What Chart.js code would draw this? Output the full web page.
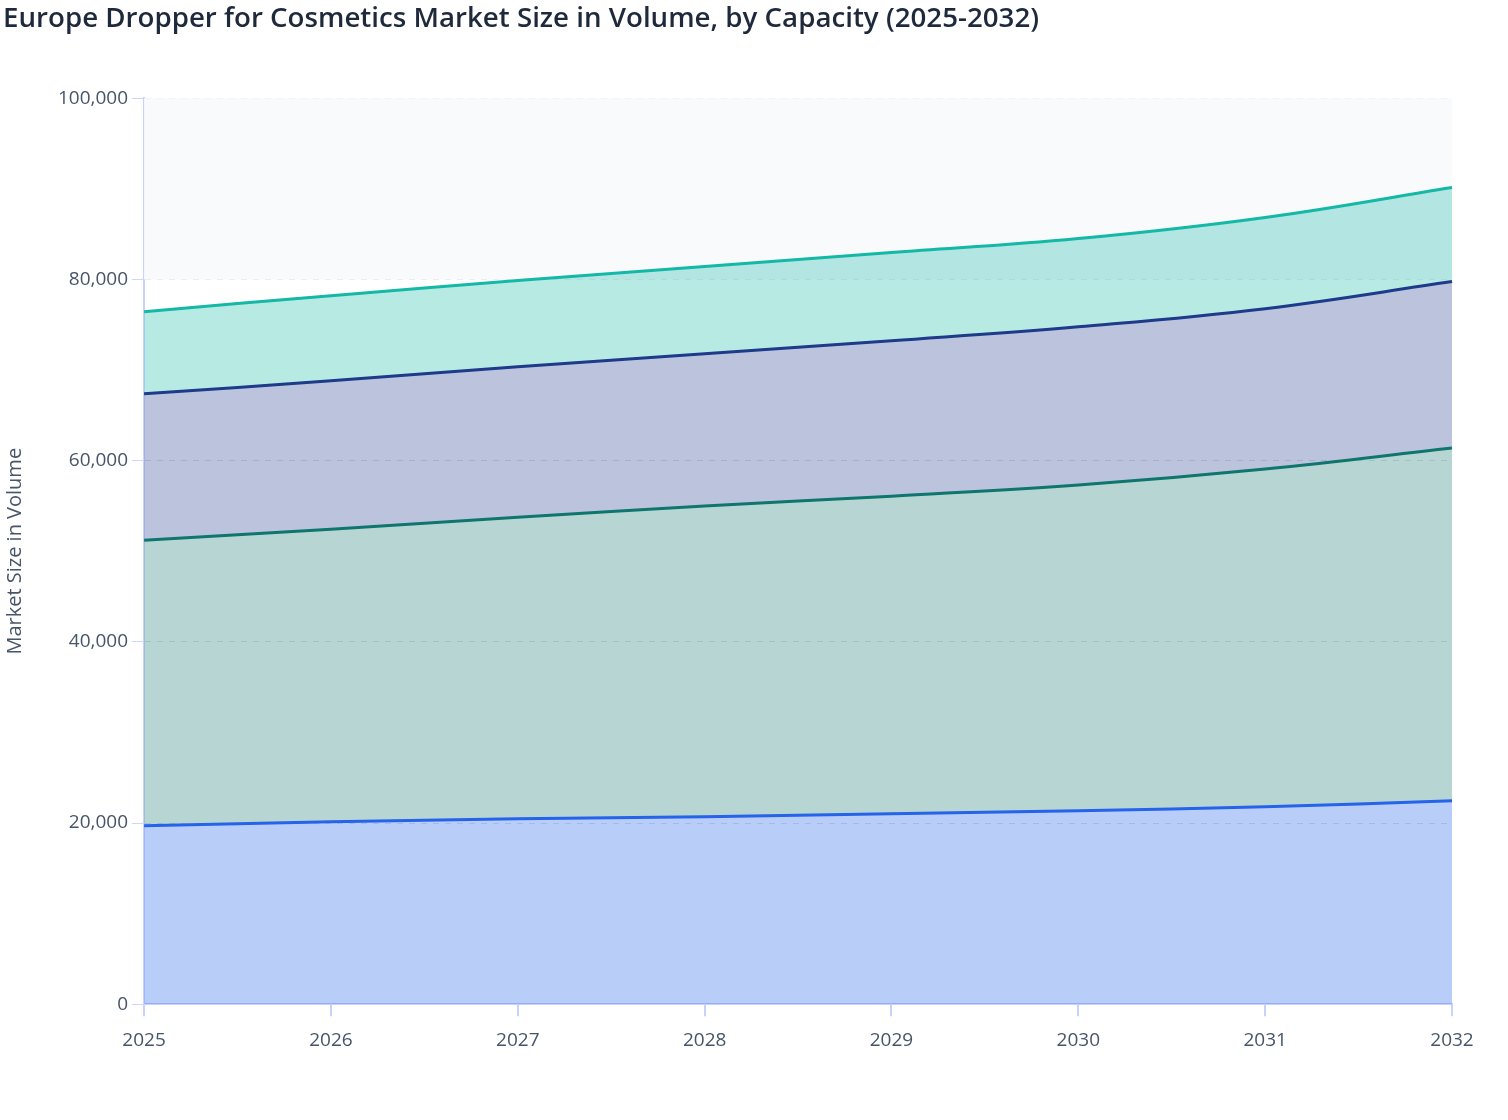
<!DOCTYPE html>
<html>
<head>
<meta charset="utf-8">
<title>Europe Dropper for Cosmetics Market Size in Volume, by Capacity</title>
<script src="https://cdn.jsdelivr.net/npm/chart.js@4.4.1/dist/chart.umd.min.js"></script>
<style>
  html, body { margin: 0; padding: 0; background: #ffffff; }
  #wrap { width: 1508px; height: 1120px; position: relative; }
</style>
</head>
<body>
<div id="wrap"><canvas id="myChart"></canvas></div>
<script>
// years on the x axis
const years = ['2025', '2026', '2027', '2028', '2029', '2030', '2031', '2032'];

// volume per capacity segment (stacked, bottom to top)
const segA = [19690, 20130, 20460, 20690, 21020, 21350, 21790, 22460];
const segB = [31530, 32300, 33300, 34290, 35060, 35950, 37280, 38930];
const segC = [16150, 16380, 16590, 16810, 17150, 17480, 17700, 18370];
const segD = [9070, 9400, 9520, 9630, 9730, 9730, 10070, 10390];

const yMax = 100000;
const bandFrom = 80000;   // light band at the top of the plot

// shaded band behind the data
const bandPlugin = {
  id: 'topBand',
  beforeDatasetsDraw(chart) {
    const { ctx, chartArea, scales } = chart;
    const yTop = scales.y.getPixelForValue(yMax);
    const yBot = scales.y.getPixelForValue(bandFrom);
    ctx.save();
    ctx.fillStyle = '#f8fafc';
    ctx.fillRect(chartArea.left, yTop, chartArea.right - chartArea.left, yBot - yTop);
    ctx.restore();
  }
};

function series(label, data, color, fill, fillFrom) {
  return {
    label: label,
    data: data,
    borderColor: color,
    backgroundColor: fill,
    borderWidth: 3,
    fill: fillFrom,
    tension: 0.4,
    pointRadius: 0,
    pointHoverRadius: 0
  };
}

const ctx = document.getElementById('myChart').getContext('2d');
new Chart(ctx, {
  type: 'line',
  data: {
    labels: years,
    datasets: [
      series('A', segA, '#2563eb', 'rgba(37, 99, 235, 0.32)', 'origin'),
      series('B', segB, '#0f766e', 'rgba(15, 118, 110, 0.3)', '-1'),
      series('C', segC, '#1e3a8a', 'rgba(30, 58, 138, 0.3)', '-1'),
      series('D', segD, '#14b8a6', 'rgba(20, 184, 166, 0.3)', '-1')
    ]
  },
  plugins: [bandPlugin],
  options: {
    responsive: true,
    maintainAspectRatio: false,
    animation: false,
    layout: { padding: { left: 3, right: 56, top: 0, bottom: 55 } },
    plugins: {
      legend: { display: false },
      tooltip: { enabled: false },
      title: {
        display: true,
        text: 'Europe Dropper for Cosmetics Market Size in Volume, by Capacity (2025-2032)',
        align: 'start',
        color: '#1e293b',
        font: { family: 'Open Sans', size: 27.7, weight: '600' },
        padding: { top: 2, bottom: 63 }
      }
    },
    scales: {
      x: {
        offset: false,
        grid: {
          drawOnChartArea: false,
          tickColor: '#c7d2fe',
          tickLength: 12,
          lineWidth: 2
        },
        border: { color: '#c7d2fe', width: 2 },
        ticks: {
          color: '#475569',
          font: { family: 'Open Sans', size: 19 },
          padding: 13,
          maxRotation: 0
        }
      },
      y: {
        stacked: true,
        min: 0,
        max: yMax,
        grid: {
          color: '#dde3ea',
          tickColor: '#c7d2fe',
          tickLength: 12,
          tickBorderDash: [1, 0]
        },
        border: { color: '#c7d2fe', width: 2, dash: [6, 6] },
        ticks: {
          stepSize: 20000,
          color: '#475569',
          font: { family: 'Open Sans', size: 19 },
          padding: 4,
          callback: v => v.toLocaleString('en-US')
        },
        title: {
          display: true,
          text: 'Market Size in Volume',
          color: '#475569',
          font: { family: 'Open Sans', size: 20 },
          padding: { top: 0, bottom: 27 }
        }
      }
    }
  }
});
</script>
</body>
</html>
